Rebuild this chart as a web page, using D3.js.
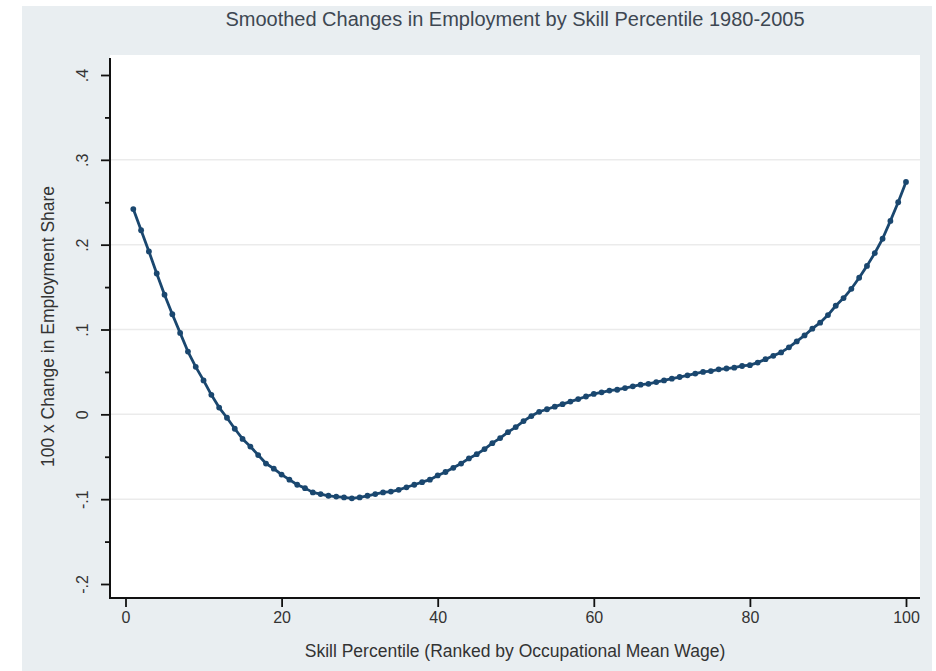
<!DOCTYPE html>
<html>
<head>
<meta charset="utf-8">
<script src="https://cdn.jsdelivr.net/npm/d3@7"></script>
<style>
  html, body { margin: 0; padding: 0; background: #ffffff; }
  svg { display: block; }
  text { font-family: "Liberation Sans", Arial, sans-serif; }
</style>
</head>
<body>
<svg id="chart" width="936" height="671"></svg>
<script>
// ---- Data ----
const titleText = "Smoothed Changes in Employment by Skill Percentile 1980-2005";
const xTitle = "Skill Percentile (Ranked by Occupational Mean Wage)";
const yTitle = "100 x Change in Employment Share";

const percentiles = [1,2,3,4,5,6,7,8,9,10,11,12,13,14,15,16,17,18,19,20,
  21,22,23,24,25,26,27,28,29,30,31,32,33,34,35,36,37,38,39,40,
  41,42,43,44,45,46,47,48,49,50,51,52,53,54,55,56,57,58,59,60,
  61,62,63,64,65,66,67,68,69,70,71,72,73,74,75,76,77,78,79,80,
  81,82,83,84,85,86,87,88,89,90,91,92,93,94,95,96,97,98,99,100];

const employmentChange = [
  0.242, 0.217, 0.192, 0.166, 0.141, 0.118, 0.096, 0.074, 0.056, 0.040,
  0.023, 0.008, -0.004, -0.017, -0.029, -0.038, -0.048, -0.058, -0.064, -0.071,
  -0.077, -0.083, -0.087, -0.092, -0.094, -0.096, -0.097, -0.098, -0.099, -0.098,
  -0.096, -0.094, -0.092, -0.091, -0.089, -0.086, -0.083, -0.080, -0.077, -0.072,
  -0.068, -0.063, -0.058, -0.052, -0.047, -0.041, -0.034, -0.028, -0.021, -0.015,
  -0.008, -0.002, 0.003, 0.006, 0.009, 0.012, 0.015, 0.018, 0.021, 0.024,
  0.026, 0.028, 0.029, 0.031, 0.033, 0.035, 0.036, 0.038, 0.040, 0.042,
  0.044, 0.046, 0.048, 0.050, 0.051, 0.053, 0.054, 0.055, 0.057, 0.058,
  0.061, 0.065, 0.069, 0.073, 0.079, 0.086, 0.093, 0.101, 0.108, 0.117,
  0.128, 0.137, 0.148, 0.161, 0.175, 0.190, 0.207, 0.228, 0.250, 0.274
];

const xTicks = [0, 20, 40, 60, 80, 100];
const yTicks = [-0.2, -0.1, 0, 0.1, 0.2, 0.3, 0.4];
const yMinorTicks = [-0.15, -0.05, 0.05, 0.15, 0.25, 0.35];
const yGridTicks = [-0.1, 0, 0.1, 0.2, 0.3];
const yTickLabels = ["-.2", "-.1", "0", ".1", ".2", ".3", ".4"];

// ---- Layout ----
const svg = d3.select("#chart");
const outer = {x: 22, y: 6, w: 910, h: 665};
const plot = {left: 110, right: 920, top: 55, bottom: 598};

const x = d3.scaleLinear().domain([0, 100]).range([125.5, 906]);
const y = d3.scaleLinear().domain([-0.2, 0.4]).range([584, 75]);

svg.append("rect").attr("x", outer.x).attr("y", outer.y)
  .attr("width", outer.w).attr("height", outer.h).attr("fill", "#e9eef1");
svg.append("rect").attr("x", plot.left).attr("y", plot.top)
  .attr("width", plot.right - plot.left).attr("height", plot.bottom - plot.top)
  .attr("fill", "#ffffff");

// gridlines
svg.append("g").selectAll("line").data(yGridTicks).join("line")
  .attr("x1", plot.left).attr("x2", plot.right)
  .attr("y1", d => y(d)).attr("y2", d => y(d))
  .attr("stroke", "#ebebeb").attr("stroke-width", 1.5);

// Y axis
const yAxis = d3.axisLeft(y).tickValues(yTicks)
  .tickFormat((d, i) => yTickLabels[i]).tickSize(9).tickPadding(6);
const gy = svg.append("g").attr("transform", `translate(${plot.left},0)`).call(yAxis);
gy.select(".domain").remove();
gy.selectAll(".tick line").attr("stroke", "#111").attr("stroke-width", 1.8);
gy.selectAll(".tick text")
  .attr("transform", "rotate(-90)")
  .attr("x", 0).attr("y", -22).attr("dy", "0")
  .attr("text-anchor", "middle")
  .attr("fill", "#333").style("font-size", "16px");
// y minor ticks
const yMinor = d3.axisLeft(y).tickValues(yMinorTicks).tickSize(5).tickFormat("");
const gym = svg.append("g").attr("transform", `translate(${plot.left},0)`).call(yMinor);
gym.select(".domain").remove();
gym.selectAll(".tick line").attr("stroke", "#111").attr("stroke-width", 1.8);
svg.append("line").attr("x1", plot.left).attr("x2", plot.left)
  .attr("y1", plot.top + 3).attr("y2", plot.bottom)
  .attr("stroke", "#111").attr("stroke-width", 2);

// X axis
const xAxis = d3.axisBottom(x).tickValues(xTicks).tickSize(9).tickPadding(5);
const gx = svg.append("g").attr("transform", `translate(0,${plot.bottom})`).call(xAxis);
gx.select(".domain").remove();
gx.selectAll(".tick line").attr("stroke", "#111").attr("stroke-width", 1.8);
gx.selectAll(".tick text").attr("fill", "#333").style("font-size", "16px");
svg.append("line").attr("x1", plot.left - 1).attr("x2", plot.right)
  .attr("y1", plot.bottom).attr("y2", plot.bottom)
  .attr("stroke", "#111").attr("stroke-width", 2);

// data
const data = percentiles.map((p, i) => ({p, v: employmentChange[i]}));
const line = d3.line().x(d => x(d.p)).y(d => y(d.v)).curve(d3.curveLinear);
svg.append("path").datum(data).attr("d", line)
  .attr("fill", "none").attr("stroke", "#1a476f").attr("stroke-width", 2.8)
  .attr("stroke-linejoin", "round");
svg.append("g").selectAll("circle").data(data).join("circle")
  .attr("cx", d => x(d.p)).attr("cy", d => y(d.v)).attr("r", 2.9)
  .attr("fill", "#1a476f");

// titles
svg.append("text").attr("x", (plot.left + plot.right) / 2).attr("y", 26)
  .attr("text-anchor", "middle").attr("fill", "#3d4752")
  .style("font-size", "20px").text(titleText);
svg.append("text").attr("x", (plot.left + plot.right) / 2).attr("y", 657)
  .attr("text-anchor", "middle").attr("fill", "#333")
  .style("font-size", "17.5px").text(xTitle);
svg.append("text")
  .attr("transform", `translate(54,${(plot.top + plot.bottom) / 2}) rotate(-90)`)
  .attr("text-anchor", "middle").attr("fill", "#333")
  .style("font-size", "17.5px").text(yTitle);
</script>
</body>
</html>
